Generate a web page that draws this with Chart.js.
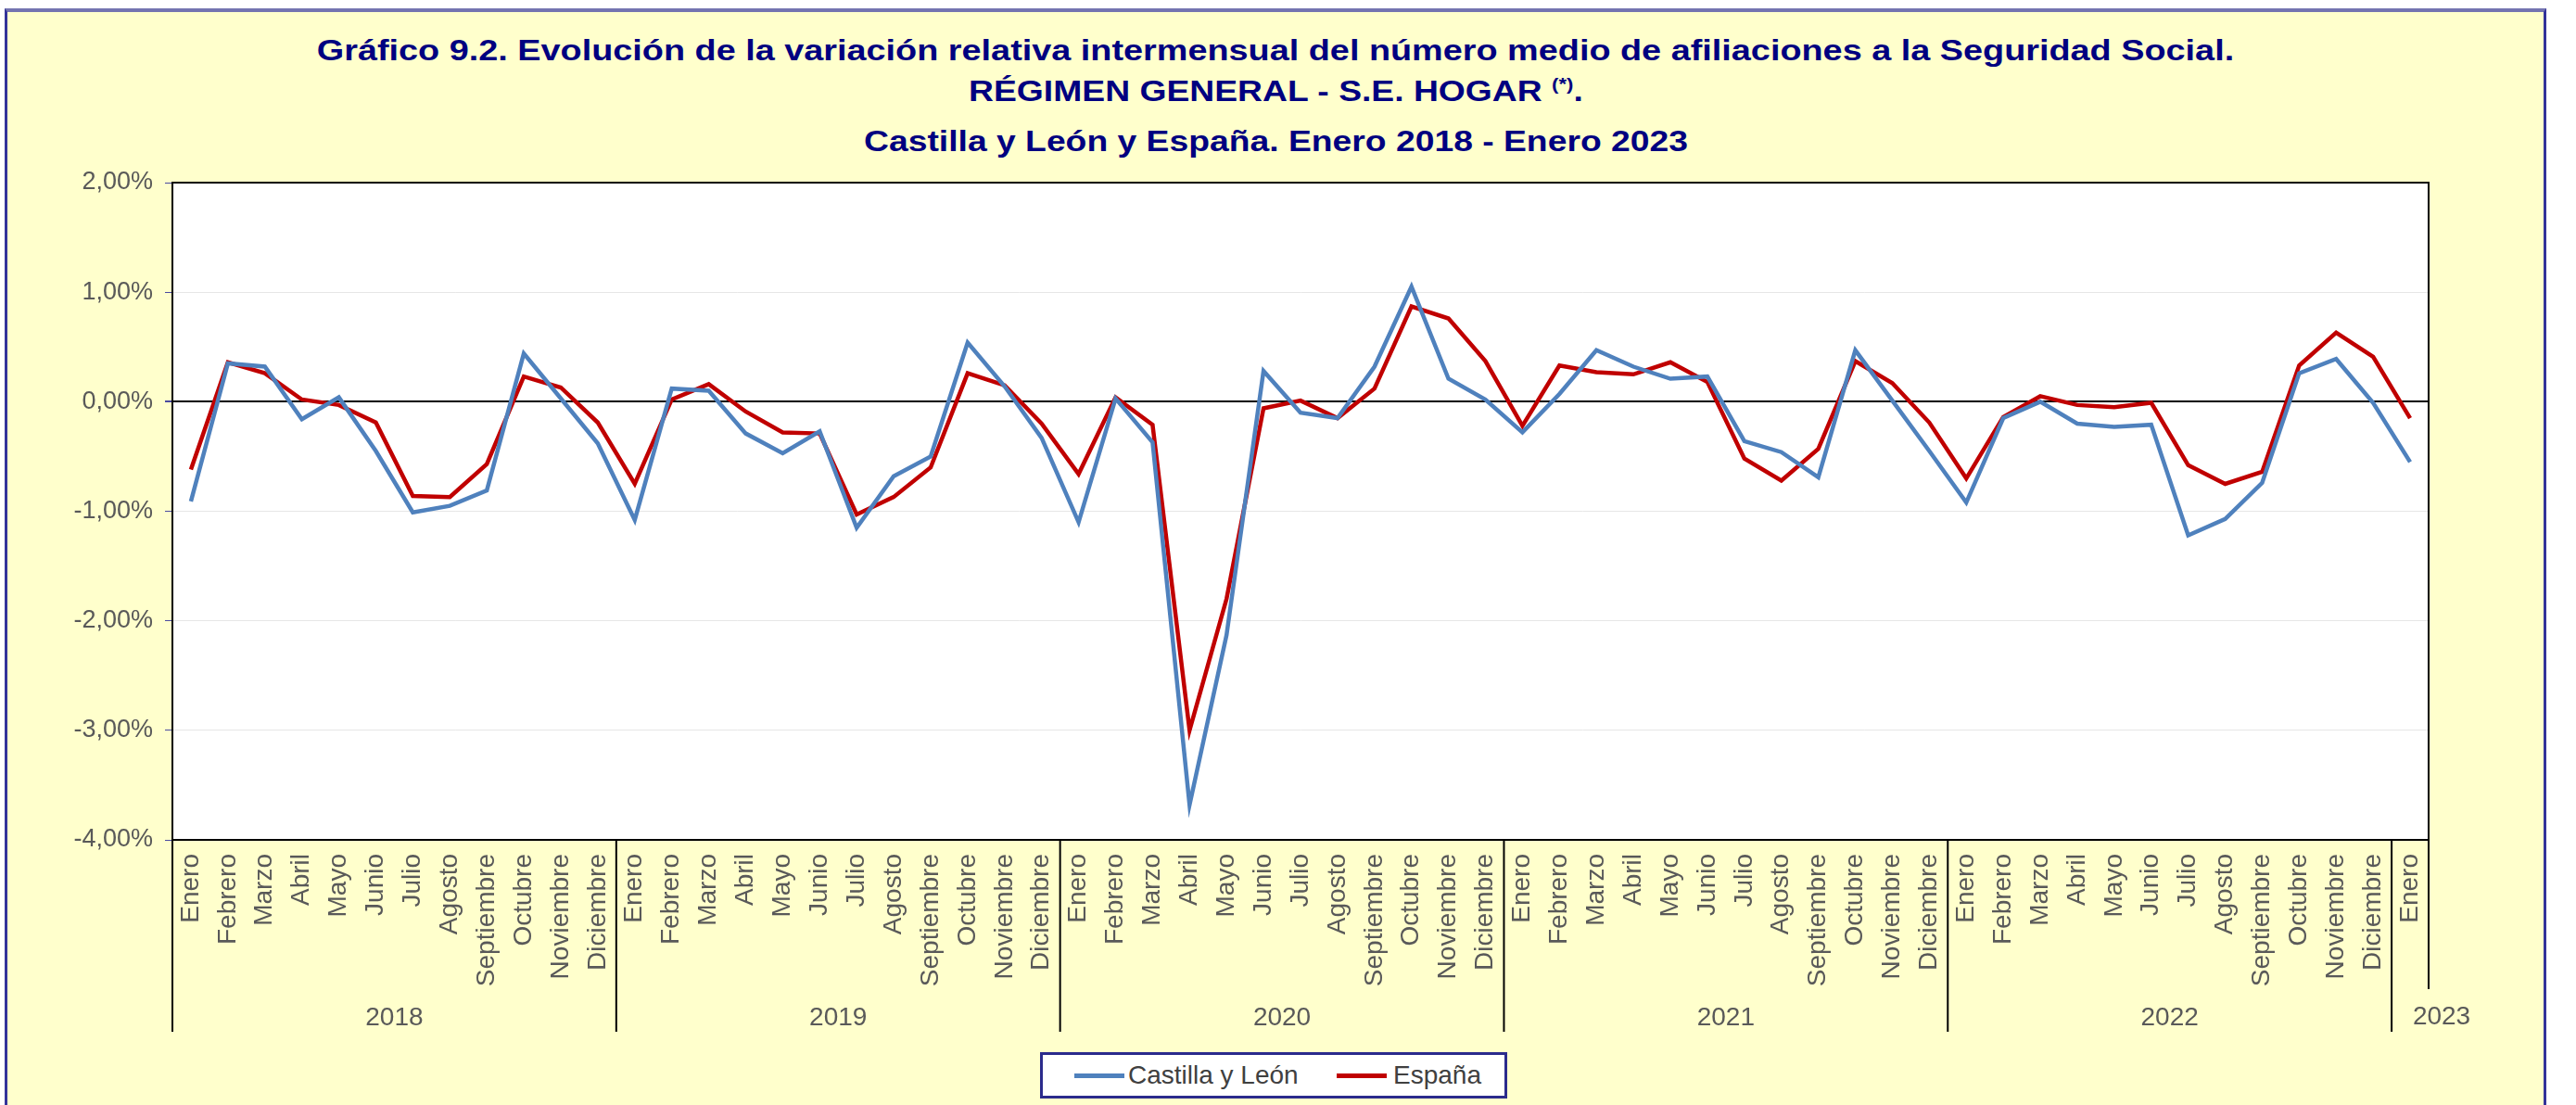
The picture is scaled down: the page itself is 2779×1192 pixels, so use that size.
<!DOCTYPE html>
<html lang="es">
<head>
<meta charset="UTF-8">
<title>Gráfico 9.2</title>
<script src="https://cdn.jsdelivr.net/npm/chart.js"></script>
<style>
    html, body {
        margin: 0;
        padding: 0;
        width: 2779px;
        height: 1192px;
        overflow: hidden;
        background: #ffffff;
        font-family: "Liberation Sans", Arial, sans-serif;
    }
    .marco {
        position: absolute;
        left: 5px;
        top: 9px;
        width: 2736px;
        height: 1300px;
        background: #ffffcc;
        border-left: 3px solid #333399;
        border-right: 3px solid #333399;
        border-top: 4px solid #7474b0;
    }
    .titulo {
        position: absolute;
        left: 5px;
        width: 2742px;
        text-align: center;
        color: #000080;
        font-weight: bold;
        font-size: 32px;
        line-height: 32px;
        white-space: nowrap;
    }
    .titulo span {
        display: inline-block;
        transform: scaleX(1.165);
    }
    .titulo sup {
        font-size: 19px;
        vertical-align: 12px;
    }
    canvas {
        position: absolute;
        left: 0;
        top: 0;
    }
    .leyenda {
        position: absolute;
        left: 1122px;
        top: 1135px;
        width: 498px;
        height: 44px;
        background: #ffffff;
        border: 3px solid #2b2b8c;
        color: #404040;
        font-size: 28px;
    }
    .leyenda .linea {
        position: absolute;
        top: 20px;
        width: 54px;
        height: 5px;
    }
    .leyenda .txt {
        position: absolute;
        top: 6px;
        line-height: 32px;
    }
</style>
</head>
<body>
<div class="marco"></div>
<div class="titulo" style="top:38px"><span style="transform:scaleX(1.182)">Gráfico 9.2. Evolución de la variación relativa intermensual del número medio de afiliaciones a la Seguridad Social.</span></div>
<div class="titulo" style="top:75px"><span>RÉGIMEN GENERAL - S.E. HOGAR <sup>(*)</sup>.</span></div>
<div class="titulo" style="top:136px"><span>Castilla y León y España. Enero 2018 - Enero 2023</span></div>

<canvas id="grafico" width="2779" height="1192"></canvas>

<div class="leyenda">
    <div class="linea" style="left:34px;background:#4f81bd"></div>
    <div class="txt" style="left:92px">Castilla y León</div>
    <div class="linea" style="left:317px;background:#c00000"></div>
    <div class="txt" style="left:378px">España</div>
</div>

<script>
    // datos (variacion intermensual, %)
    var meses = ['Enero', 'Febrero', 'Marzo', 'Abril', 'Mayo', 'Junio', 'Julio', 'Agosto', 'Septiembre', 'Octubre', 'Noviembre', 'Diciembre'];
    var anios = ['2018', '2019', '2020', '2021', '2022', '2023'];

    var castillaLeon = [
        -0.91, 0.35, 0.32, -0.16, 0.04, -0.45, -1.01, -0.95, -0.81, 0.44, 0.03, -0.38,
        -1.08, 0.12, 0.10, -0.29, -0.47, -0.27, -1.15, -0.68, -0.50, 0.54, 0.14, -0.33,
        -1.10, 0.03, -0.37, -3.68, -2.13, 0.28, -0.10, -0.15, 0.32, 1.05, 0.21, 0.02,
        -0.28, 0.07, 0.47, 0.32, 0.21, 0.23, -0.36, -0.46, -0.69, 0.47, 0.01, -0.45,
        -0.92, -0.15, 0.00, -0.20, -0.23, -0.21, -1.22, -1.07, -0.74, 0.26, 0.39, -0.01,
        -0.55
    ];
    var espana = [
        -0.62, 0.36, 0.26, 0.02, -0.03, -0.19, -0.86, -0.87, -0.57, 0.23, 0.13, -0.19,
        -0.75, 0.02, 0.16, -0.09, -0.28, -0.29, -1.03, -0.87, -0.60, 0.26, 0.15, -0.20,
        -0.66, 0.04, -0.21, -3.00, -1.80, -0.06, 0.01, -0.15, 0.12, 0.87, 0.76, 0.37,
        -0.22, 0.33, 0.27, 0.25, 0.36, 0.18, -0.52, -0.72, -0.43, 0.37, 0.17, -0.19,
        -0.70, -0.14, 0.05, -0.03, -0.05, -0.01, -0.58, -0.75, -0.64, 0.33, 0.63, 0.41,
        -0.15
    ];

    // etiquetas: 5 años completos + enero 2023
    var etiquetas = [];
    for (var a = 0; a < 5; a++) etiquetas = etiquetas.concat(meses);
    etiquetas.push('Enero');

    var gris = '#595959';
    Chart.defaults.font.family = '"Liberation Sans", Arial, sans-serif';

    // fondo blanco y marco del area de trazado
    var marcoPlot = {
        id: 'marcoPlot',
        beforeDraw: function(chart) {
            var a = chart.chartArea, ctx = chart.ctx;
            ctx.save();
            ctx.fillStyle = '#ffffff';
            ctx.fillRect(a.left, a.top, a.right - a.left, a.bottom - a.top);
            ctx.restore();
        },
        afterDraw: function(chart) {
            var a = chart.chartArea, ctx = chart.ctx;
            ctx.save();
            ctx.strokeStyle = '#000000';
            ctx.lineWidth = 2;
            ctx.strokeRect(a.left, a.top, a.right - a.left, a.bottom - a.top);
            ctx.restore();
        }
    };

    // separadores y etiquetas de año bajo el eje
    var ejeAnios = {
        id: 'ejeAnios',
        afterDraw: function(chart) {
            var x = chart.scales.x, a = chart.chartArea, ctx = chart.ctx;
            var paso = x.getPixelForValue(1) - x.getPixelForValue(0);
            ctx.save();
            ctx.strokeStyle = '#000000';
            ctx.lineWidth = 2;
            for (var i = 0; i <= 60; i += 12) {
                var px = x.getPixelForValue(i) - paso / 2;
                ctx.beginPath();
                ctx.moveTo(px, a.bottom);
                ctx.lineTo(px, 1113);
                ctx.stroke();
            }
            ctx.beginPath();
            ctx.moveTo(a.right, a.bottom);
            ctx.lineTo(a.right, 1067);
            ctx.stroke();

            ctx.fillStyle = gris;
            ctx.font = '28px "Liberation Sans", Arial, sans-serif';
            ctx.textAlign = 'center';
            ctx.textBaseline = 'middle';
            for (var k = 0; k < 5; k++) {
                var c = (x.getPixelForValue(k * 12) + x.getPixelForValue(k * 12 + 11)) / 2;
                ctx.fillText(anios[k], c, 1098);
            }
            ctx.fillText(anios[5], x.getPixelForValue(60) + 34, 1097);
            ctx.restore();
        }
    };

    var ctx = document.getElementById('grafico').getContext('2d');
    var grafico = new Chart(ctx, {
        type: 'line',
        data: {
            labels: etiquetas,
            datasets: [
                {
                    label: 'Castilla y León',
                    data: castillaLeon,
                    borderColor: '#4f81bd',
                    borderWidth: 4.5,
                    pointRadius: 0,
                    tension: 0
                },
                {
                    label: 'España',
                    data: espana,
                    borderColor: '#c00000',
                    borderWidth: 4.5,
                    pointRadius: 0,
                    tension: 0
                }
            ]
        },
        options: {
            responsive: false,
            animation: false,
            devicePixelRatio: 1,
            layout: { padding: { top: 197, right: 159, bottom: 0, left: 0 } },
            plugins: {
                legend: { display: false },
                tooltip: { enabled: false }
            },
            scales: {
                x: {
                    offset: true,
                    afterFit: function(s) { s.height = 286; },
                    grid: { display: false, drawTicks: false },
                    border: { display: true, color: '#000000', width: 2 },
                    ticks: {
                        autoSkip: false,
                        minRotation: 90,
                        maxRotation: 90,
                        padding: 15,
                        color: gris,
                        font: { size: 28 }
                    }
                },
                y: {
                    min: -4,
                    max: 2,
                    afterFit: function(s) { s.width = 186; },
                    grid: {
                        color: function(c) { return c.tick && c.tick.value === 0 ? '#000000' : '#e6e6e6'; },
                        lineWidth: function(c) { return c.tick && c.tick.value === 0 ? 2 : 1; },
                        tickColor: '#4a4aa0',
                        tickLength: 8
                    },
                    border: { display: true, color: '#000000', width: 2 },
                    ticks: {
                        stepSize: 1,
                        padding: 13,
                        color: gris,
                        font: { size: 27 },
                        callback: function(v) { return v.toFixed(2).replace('.', ',') + '%'; }
                    }
                }
            }
        },
        plugins: [marcoPlot, ejeAnios]
    });
</script>
</body>
</html>
